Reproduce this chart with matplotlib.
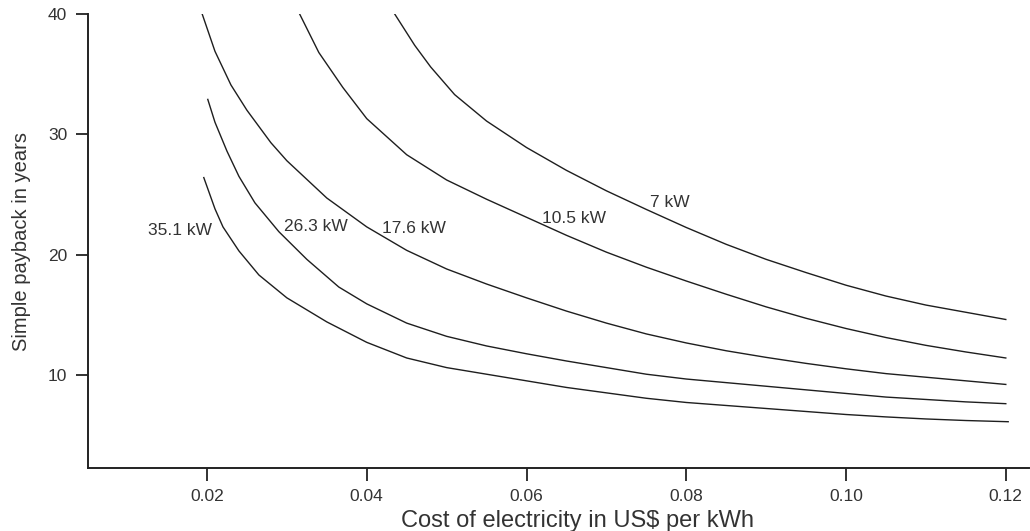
import matplotlib.pyplot as plt

plt.rcParams['font.family'] = ['Liberation Sans', 'DejaVu Sans']

# cost of electricity (US$/kWh) and simple payback (years)
x_7 = [0.0435, 0.046, 0.048, 0.051, 0.055, 0.060, 0.065, 0.070, 0.075, 0.080,
       0.085, 0.090, 0.095, 0.100, 0.105, 0.110, 0.115, 0.120]
y_7 = [40.0, 37.4, 35.6, 33.3, 31.1, 28.9, 27.0, 25.3, 23.75, 22.25,
       20.85, 19.6, 18.5, 17.45, 16.55, 15.8, 15.2, 14.6]

x_10_5 = [0.0316, 0.034, 0.037, 0.040, 0.045, 0.050, 0.055, 0.060, 0.065, 0.070,
          0.075, 0.080, 0.085, 0.090, 0.095, 0.100, 0.105, 0.110, 0.115, 0.120]
y_10_5 = [40.0, 36.8, 33.9, 31.3, 28.3, 26.2, 24.6, 23.1, 21.6, 20.2,
          18.95, 17.8, 16.7, 15.65, 14.7, 13.85, 13.1, 12.45, 11.9, 11.4]

x_17_6 = [0.0194, 0.021, 0.023, 0.025, 0.028, 0.030, 0.035, 0.040, 0.045, 0.050,
          0.055, 0.060, 0.065, 0.070, 0.075, 0.080, 0.085, 0.090, 0.095, 0.100,
          0.105, 0.110, 0.115, 0.120]
y_17_6 = [40.0, 36.9, 34.1, 32.0, 29.3, 27.8, 24.7, 22.3, 20.35, 18.8,
          17.55, 16.4, 15.3, 14.3, 13.4, 12.65, 12.0, 11.45, 10.95, 10.5,
          10.1, 9.8, 9.5, 9.2]

x_26_3 = [0.0201, 0.021, 0.0225, 0.024, 0.026, 0.029, 0.0325, 0.0365, 0.040, 0.045,
          0.050, 0.055, 0.060, 0.065, 0.070, 0.075, 0.080, 0.085, 0.090, 0.095,
          0.100, 0.105, 0.110, 0.115, 0.120]
y_26_3 = [32.9, 31.0, 28.6, 26.5, 24.3, 21.9, 19.6, 17.3, 15.9, 14.3,
          13.2, 12.4, 11.75, 11.15, 10.6, 10.05, 9.65, 9.35, 9.05, 8.75,
          8.45, 8.15, 7.95, 7.75, 7.6]

x_35_1 = [0.0196, 0.021, 0.022, 0.024, 0.0265, 0.030, 0.035, 0.040, 0.045, 0.050,
          0.055, 0.060, 0.065, 0.070, 0.075, 0.080, 0.085, 0.090, 0.095, 0.100,
          0.105, 0.110, 0.115, 0.1203]
y_35_1 = [26.4, 23.8, 22.3, 20.3, 18.3, 16.4, 14.4, 12.7, 11.4, 10.6,
          10.05, 9.5, 8.95, 8.5, 8.05, 7.7, 7.45, 7.2, 6.95, 6.7,
          6.5, 6.33, 6.2, 6.1]

curve_labels = ['7 kW', '10.5 kW', '17.6 kW', '26.3 kW', '35.1 kW']
label_x = [0.0754, 0.0620, 0.0419, 0.0296, 0.0126]
label_y = [24.3, 23.0, 22.2, 22.3, 22.0]

x_ticks = [0.02, 0.04, 0.06, 0.08, 0.10, 0.12]
x_tick_labels = ['0.02', '0.04', '0.06', '0.08', '0.10', '0.12']
y_ticks = [10, 20, 30, 40]

fig = plt.figure(figsize=(10.3, 5.31), dpi=100)
ax = fig.add_axes([0.0854, 0.1186, 0.9136, 0.855])

line_kw = dict(color='#1e1e1e', linewidth=1.0)
ax.plot(x_7, y_7, **line_kw)
ax.plot(x_10_5, y_10_5, **line_kw)
ax.plot(x_17_6, y_17_6, **line_kw)
ax.plot(x_26_3, y_26_3, **line_kw)
ax.plot(x_35_1, y_35_1, **line_kw)

for txt, tx, ty in zip(curve_labels, label_x, label_y):
    ax.text(tx, ty, txt, fontsize=12.5, color='#333333', ha='left', va='center')

ax.set_xlim(0.0051, 0.1229)
ax.set_ylim(2.25, 40)
ax.set_xticks(x_ticks)
ax.set_xticklabels(x_tick_labels)
ax.set_yticks(y_ticks)

for side in ['top', 'right']:
    ax.spines[side].set_visible(False)
for side in ['left', 'bottom']:
    ax.spines[side].set_linewidth(1.4)
    ax.spines[side].set_color('#222222')

ax.tick_params(axis='both', direction='out', length=9, width=1.3,
               labelsize=12.5, colors='#222222', labelcolor='#333333', pad=6)

ax.set_xlabel('Cost of electricity in US$ per kWh', fontsize=17, color='#333333')
ax.xaxis.set_label_coords(0.52, -0.092)
ax.set_ylabel('Simple payback in years', fontsize=14.5, color='#333333', labelpad=12)

fig.savefig('out.png', dpi=100)
